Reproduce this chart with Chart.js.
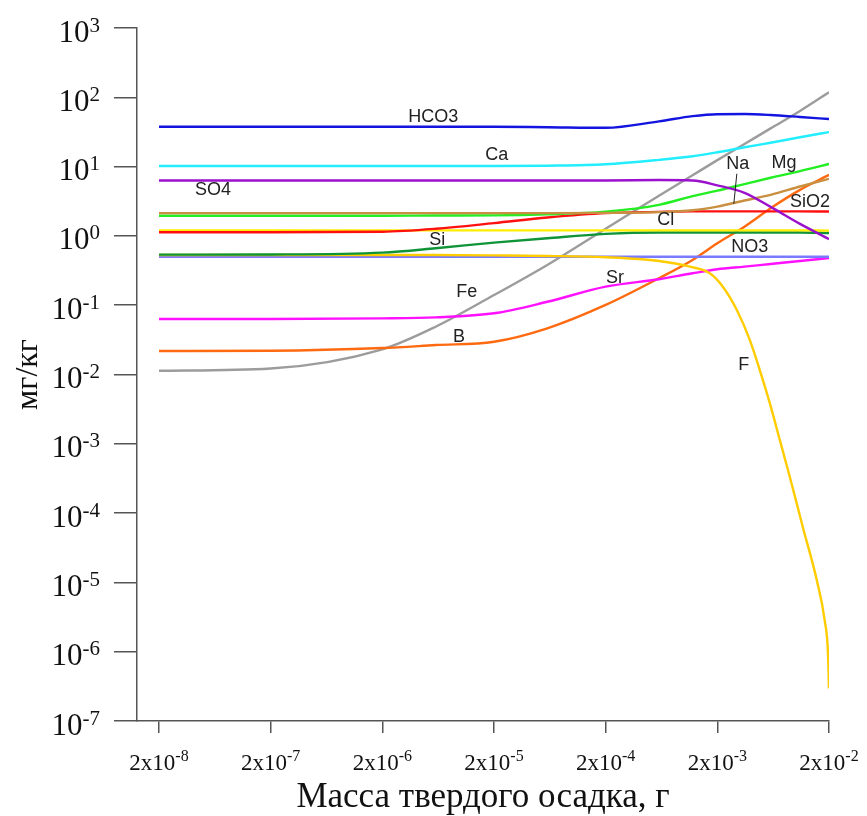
<!DOCTYPE html>
<html>
<head>
<meta charset="utf-8">
<script src="https://cdn.jsdelivr.net/npm/chart.js@4/dist/chart.umd.min.js"></script>
<style>
  html, body { margin: 0; padding: 0; background: #fff; }
</style>
</head>
<body>
<canvas id="grafico" width="867" height="816"></canvas>
<script>
// massa do resíduo sólido (g) e teores em mg/kg
const masses = [2e-8, 2e-7, 2e-6, 6e-6, 2e-5, 6e-5, 2e-4, 6e-4, 1.2e-3, 2e-3, 3.5e-3, 6e-3, 1.1e-2, 2e-2];
const hco3 = [37.6, 37.6, 37.6, 37.6, 37.6, 37.0, 36.3, 45.0, 53.5, 57.0, 57.3, 55.5, 52.0, 48.6];
const ca   = [10.2, 10.2, 10.2, 10.2, 10.2, 10.3, 10.8, 12.5, 14.1, 16.1, 19.0, 22.1, 26.5, 31.5];
const so4  = [6.3, 6.3, 6.3, 6.3, 6.3, 6.3, 6.3, 6.4, 6.3, 5.37, 4.18, 2.62, 1.49, 0.9];
const mg   = [1.95, 1.95, 1.95, 1.97, 1.98, 2.05, 2.24, 2.81, 3.75, 4.5, 5.6, 6.9, 8.6, 10.9];
const na   = [2.13, 2.13, 2.13, 2.13, 2.13, 2.13, 2.15, 2.2, 2.34, 2.65, 3.24, 3.91, 5.16, 6.67];
const cl   = [1.13, 1.13, 1.15, 1.27, 1.53, 1.84, 2.13, 2.22, 2.26, 2.26, 2.26, 2.26, 2.26, 2.25];
const sio2 = [1.2, 1.2, 1.2, 1.2, 1.2, 1.2, 1.2, 1.2, 1.2, 1.2, 1.2, 1.2, 1.2, 1.19];
const si   = [0.537, 0.54, 0.574, 0.664, 0.80, 0.926, 1.07, 1.12, 1.12, 1.12, 1.12, 1.12, 1.12, 1.1];
const no3  = [0.5, 0.5, 0.5, 0.5, 0.5, 0.5, 0.5, 0.5, 0.5, 0.5, 0.5, 0.5, 0.5, 0.5];
const sr   = [0.0632, 0.0632, 0.0645, 0.0668, 0.0764, 0.112, 0.185, 0.237, 0.289, 0.33, 0.36, 0.394, 0.435, 0.481];
const b    = [0.0218, 0.022, 0.0241, 0.0266, 0.0297, 0.0464, 0.101, 0.245, 0.45, 0.784, 1.36, 2.51, 4.62, 7.61];
const fe   = [0.0113, 0.0122, 0.0231, 0.0489, 0.14, 0.381, 1.27, 3.8, 7.5, 12.4, 21.2, 35.6, 63.5, 118];

// o flúor cai bruscamente no fim, por isso tem malha própria
const massesF = [2e-8, 2e-7, 2e-6, 6e-6, 2e-5, 6e-5, 2e-4, 6e-4, 1.135e-3, 1.71e-3, 2.24e-3, 2.99e-3, 3.91e-3,
                 4.8e-3, 5.9e-3, 7.26e-3, 8.92e-3, 1.165e-2, 1.556e-2, 1.83e-2, 1.96e-2, 2e-2];
const f = [0.531, 0.531, 0.531, 0.53, 0.523, 0.514, 0.492, 0.435, 0.36, 0.289, 0.185, 0.0852, 0.0314,
           0.0116, 0.00386, 1.13e-3, 3.32e-4, 6.3e-5, 1.07e-5, 2.83e-6, 9.4e-7, 2.94e-7];

const xTicks = [2e-8, 2e-7, 2e-6, 2e-5, 2e-4, 2e-3, 2e-2];
const yTicks = [1e-7, 1e-6, 1e-5, 1e-4, 1e-3, 1e-2, 1e-1, 1, 10, 100, 1000];

// rótulos das curvas (coordenadas nos eixos do gráfico)
const rotulos = [
    { text: 'HCO3', x: 5.7e-6, y: 52 },
    { text: 'Ca', x: 2.12e-5, y: 14.8 },
    { text: 'SO4', x: 6.1e-8, y: 4.62 },
    { text: 'Na', x: 3.05e-3, y: 11.0 },
    { text: 'Mg', x: 7.9e-3, y: 11.35 },
    { text: 'SiO2', x: 1.35e-2, y: 3.1 },
    { text: 'Cl', x: 6.9e-4, y: 1.7 },
    { text: 'Si', x: 6.2e-6, y: 0.875 },
    { text: 'NO3', x: 3.9e-3, y: 0.693 },
    { text: 'Fe', x: 1.14e-5, y: 0.155 },
    { text: 'Sr', x: 2.42e-4, y: 0.247 },
    { text: 'B', x: 9.7e-6, y: 0.0347 },
    { text: 'F', x: 3.45e-3, y: 0.0137 }
];
// traço que liga o rótulo Na à sua curva
const linhaNa = [{ x: 2.99e-3, y: 7.9 }, { x: 2.81e-3, y: 2.9 }];

function pontos(xs, ys) {
    return xs.map((m, i) => ({ x: m, y: ys[i] }));
}

function serie(nome, xs, ys, cor) {
    return {
        label: nome,
        data: pontos(xs, ys),
        borderColor: cor,
        backgroundColor: cor,
        borderWidth: 2.4,
        pointRadius: 0,
        fill: false,
        cubicInterpolationMode: 'monotone'
    };
}

const textos = {
    id: 'textos',
    afterDraw(chart) {
        const ctx = chart.ctx;
        const sx = chart.scales.x;
        const sy = chart.scales.y;
        const area = chart.chartArea;
        ctx.save();
        ctx.fillStyle = '#111';
        ctx.textBaseline = 'alphabetic';

        // eixo Y: 10 com expoente
        const direita = area.left - 37;
        yTicks.forEach(v => {
            const py = sy.getPixelForValue(v);
            const exp = String(Math.round(Math.log10(v)));
            ctx.textAlign = 'right';
            ctx.font = '21px "Liberation Serif"';
            const we = ctx.measureText(exp).width;
            ctx.fillText(exp, direita, py + 3.5);
            ctx.font = '31px "Liberation Serif"';
            ctx.fillText('10', direita - we, py + 13.5);
        });

        // eixo X: 2x10 com expoente
        xTicks.forEach(v => {
            const px = sx.getPixelForValue(v);
            const exp = String(Math.round(Math.log10(v / 2)));
            ctx.font = '23px "Liberation Serif"';
            const wb = ctx.measureText('2x10').width;
            ctx.font = '16px "Liberation Serif"';
            const we = ctx.measureText(exp).width;
            const x0 = px - (wb + we) / 2;
            ctx.textAlign = 'left';
            ctx.font = '23px "Liberation Serif"';
            ctx.fillText('2x10', x0, area.bottom + 49);
            ctx.font = '16px "Liberation Serif"';
            ctx.fillText(exp, x0 + wb, area.bottom + 40);
        });

        // títulos dos eixos
        ctx.font = '35px "Liberation Serif"';
        ctx.textAlign = 'center';
        ctx.fillText('Масса твердого осадка, г', (area.left + area.right) / 2, area.bottom + 86);
        ctx.save();
        ctx.translate(37, (area.top + area.bottom) / 2);
        ctx.rotate(-Math.PI / 2);
        ctx.font = '32px "Liberation Serif"';
        ctx.fillText('мг/кг', 0, 0);
        ctx.restore();

        // nomes das curvas
        ctx.font = '18px "Liberation Sans"';
        ctx.fillStyle = '#222';
        ctx.textAlign = 'center';
        ctx.textBaseline = 'middle';
        rotulos.forEach(r => {
            ctx.fillText(r.text, sx.getPixelForValue(r.x), sy.getPixelForValue(r.y));
        });

        ctx.strokeStyle = '#222';
        ctx.lineWidth = 1;
        ctx.beginPath();
        ctx.moveTo(sx.getPixelForValue(linhaNa[0].x), sy.getPixelForValue(linhaNa[0].y));
        ctx.lineTo(sx.getPixelForValue(linhaNa[1].x), sy.getPixelForValue(linhaNa[1].y));
        ctx.stroke();
        ctx.restore();
    }
};

const contexto = document.getElementById('grafico').getContext('2d');
new Chart(contexto, {
    type: 'line',
    data: {
        datasets: [
            serie('HCO3', masses, hco3, '#1414e0'),
            serie('Ca', masses, ca, '#22eeff'),
            serie('SO4', masses, so4, '#9a10cc'),
            serie('Na', masses, na, '#c89040'),
            serie('Mg', masses, mg, '#22ee22'),
            serie('Cl', masses, cl, '#ff1010'),
            serie('SiO2', masses, sio2, '#ffee00'),
            serie('Si', masses, si, '#109438'),
            serie('F', massesF, f, '#ffcc00'),
            serie('NO3', masses, no3, '#7a7aff'),
            serie('Sr', masses, sr, '#ff10ff'),
            serie('B', masses, b, '#ff6a10'),
            serie('Fe', masses, fe, '#9c9c9c')
        ]
    },
    options: {
        responsive: false,
        animation: false,
        layout: {
            padding: { left: 114, right: 38, top: 28, bottom: 83 }
        },
        plugins: {
            legend: { display: false },
            tooltip: { enabled: false }
        },
        scales: {
            x: {
                type: 'logarithmic',
                min: 1.27e-8,
                max: 2e-2,
                afterBuildTicks: scale => { scale.ticks = xTicks.map(v => ({ value: v })); },
                ticks: { display: false },
                grid: { drawOnChartArea: false, drawTicks: true, tickLength: 12, color: '#555', lineWidth: 1.5 },
                border: { display: true, color: '#555', width: 1.5 }
            },
            y: {
                type: 'logarithmic',
                min: 1e-7,
                max: 1e3,
                afterBuildTicks: scale => { scale.ticks = yTicks.map(v => ({ value: v })); },
                ticks: { display: false },
                grid: { drawOnChartArea: false, drawTicks: true, tickLength: 23, color: '#555', lineWidth: 1.5 },
                border: { display: true, color: '#555', width: 1.5 }
            }
        }
    },
    plugins: [textos]
});
</script>
</body>
</html>
